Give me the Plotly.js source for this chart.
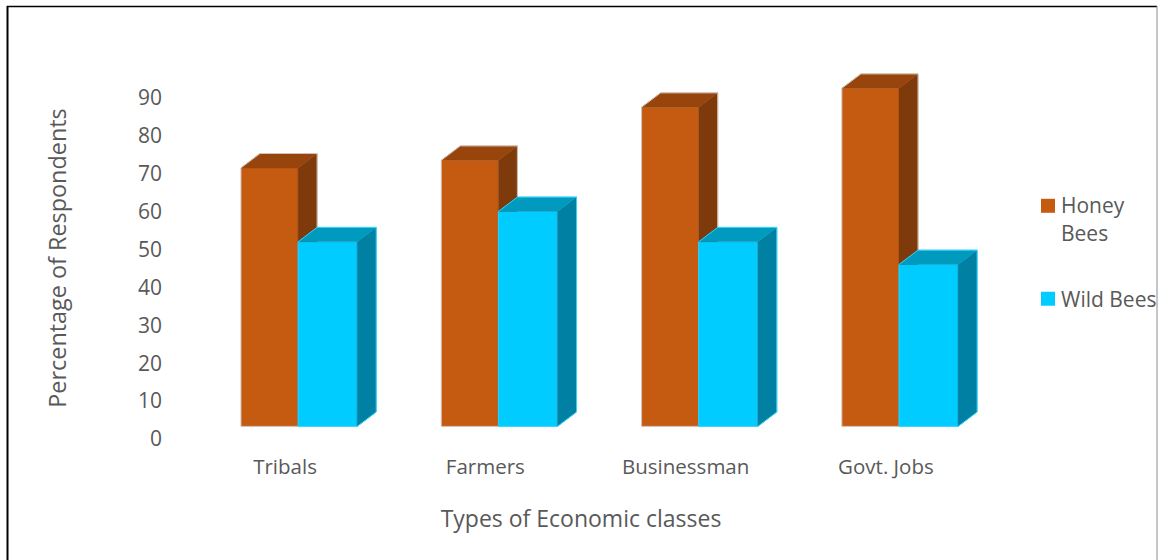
<!DOCTYPE html>
<html>
<head>
<meta charset="utf-8">
<script src="https://cdn.plot.ly/plotly-3.0.1.min.js"></script>
<style>html,body{margin:0;padding:0;background:#fff}#chart{width:1158px;height:560px}</style>
</head>
<body>
<div id="chart"></div>
<script>
// Survey shares by economic class
const categories = ["Tribals", "Farmers", "Businessman", "Govt. Jobs"];
const honeyBees = [71, 73, 87, 92];
const wildBees = [51.5, 59.5, 51.5, 45.5];
const yTicks = [0, 10, 20, 30, 40, 50, 60, 70, 80, 90];

// Extruded column geometry, in axis units
const floorLevel = 2.8;
const depthX = 0.095;
const depthY = 3.8;
const honeyOffset = -0.22, honeyWidth = 0.285;
const wildOffset = 0.065, wildWidth = 0.295;

const xRange = [-0.5993, 3.5544];
const yRange = [-3.96, 98.42];
const textColor = "#595959";
const font = "'Open Sans', sans-serif";

const positions = categories.map((_, i) => i);

function face(xs, ys, color, xa, ya) {
  return {
    type: "scatter", mode: "lines", x: xs, y: ys, xaxis: xa, yaxis: ya,
    fill: "toself", fillcolor: color, line: {color: color, width: 0.5},
    showlegend: false, hoverinfo: "skip"
  };
}

// One series: front faces as bars, then side and top faces and a soft outline
function series(name, values, offset, width, colors, xa, ya) {
  const traces = [{
    type: "bar", name: name, legendgroup: name, x: positions, y: values.map(v => v - floorLevel),
    base: floorLevel, offset: offset, width: width, xaxis: xa, yaxis: ya,
    marker: {color: colors.front, line: {width: 0}},
    hoverinfo: "y"
  }];
  values.forEach((v, i) => {
    const x0 = i + offset, x1 = x0 + width;
    traces.push(face(
      [x1, x1 + depthX, x1 + depthX, x1, x1],
      [v, v + depthY, floorLevel + depthY, floorLevel, v],
      colors.side, xa, ya));
    traces.push(face(
      [x0, x0 + depthX, x1 + depthX, x1, x0],
      [v, v + depthY, v + depthY, v, v],
      colors.top, xa, ya));
    traces.push({
      type: "scatter", mode: "lines", xaxis: xa, yaxis: ya,
      x: [x0, x0, x0 + depthX, x1 + depthX, x1 + depthX, x1, x0],
      y: [floorLevel, v, v + depthY, v + depthY, floorLevel + depthY, floorLevel, floorLevel],
      line: {color: colors.edge, width: 1},
      showlegend: false, hoverinfo: "skip"
    });
  });
  return traces;
}

const data = [
  ...series("Honey<br>Bees", honeyBees, honeyOffset, honeyWidth,
    {front: "#C55A11", side: "#7F3A0B", top: "#97450D", edge: "#D3C3B8"}, "x", "y"),
  ...series("Wild Bees", wildBees, wildOffset, wildWidth,
    {front: "#00CCFF", side: "#0080A3", top: "#009ABF", edge: "#2FD4FF"}, "x2", "y2")
];

const W = 1158, H = 560;
const M = {l: 165, r: 161, t: 64, b: 108, pad: 0, autoexpand: false};
const px = v => (v - M.l) / (W - M.l - M.r);
const py = v => 1 - (v - M.t) / (H - M.t - M.b);
const frameLine = (x0, y0, x1, y1, color, width) => ({
  type: "line", xref: "paper", yref: "paper",
  x0: px(x0), y0: py(y0), x1: px(x1), y1: py(y1),
  line: {color: color, width: width}, layer: "below"
});

const layout = {
  width: W, height: H, margin: M,
  paper_bgcolor: "#fff", plot_bgcolor: "rgba(0,0,0,0)",
  font: {family: font, color: textColor, size: 20},
  barmode: "overlay",
  xaxis: {
    range: xRange, tickmode: "array", tickvals: positions, ticktext: categories,
    showgrid: false, zeroline: false, showline: false, ticks: "", ticklen: 0,
    tickfont: {family: font, size: 20.5, color: textColor},
    title: {text: "Types of Economic classes", standoff: 32, font: {family: font, size: 23, color: textColor}},
    automargin: false, fixedrange: true
  },
  yaxis: {
    range: yRange, tickmode: "array", tickvals: yTicks,
    showgrid: false, zeroline: false, showline: false, ticks: "",
    ticklabelstandoff: 2, ticklabelshift: 2,
    tickfont: {family: font, size: 21, color: textColor},
    title: {text: "Percentage of Respondents", standoff: 64, font: {family: font, size: 23.4, color: textColor}},
    automargin: false, fixedrange: true
  },
  xaxis2: {range: xRange, overlaying: "x", visible: false, fixedrange: true},
  yaxis2: {range: yRange, overlaying: "y", visible: false, fixedrange: true},
  legend: {
    x: px(1021), y: py(185), xanchor: "left", yanchor: "top",
    font: {family: font, size: 21, color: textColor},
    bgcolor: "rgba(0,0,0,0)", itemclick: false, itemdoubleclick: false,
    tracegroupgap: 36
  },
  shapes: [
    frameLine(7.5, 6, 7.5, 560, "#000", 2),
    frameLine(7, 6.5, 1157, 6.5, "#000", 1.5),
    frameLine(1157, 6, 1157, 560, "#8c8c8c", 1)
  ],
  showlegend: true
};

// Larger legend swatches, with the two-line entry's swatch beside its first line
const swatchLift = [-13, 0];
Plotly.newPlot("chart", data, layout, {displayModeBar: false, responsive: false}).then(gd => {
  gd.querySelectorAll(".legend .legendpoints path").forEach((p, i) => {
    p.setAttribute("d", "M7,7H-7V-7H7Z");
    p.setAttribute("transform", `translate(27,${swatchLift[i]})`);
  });
});
</script>
</body>
</html>
